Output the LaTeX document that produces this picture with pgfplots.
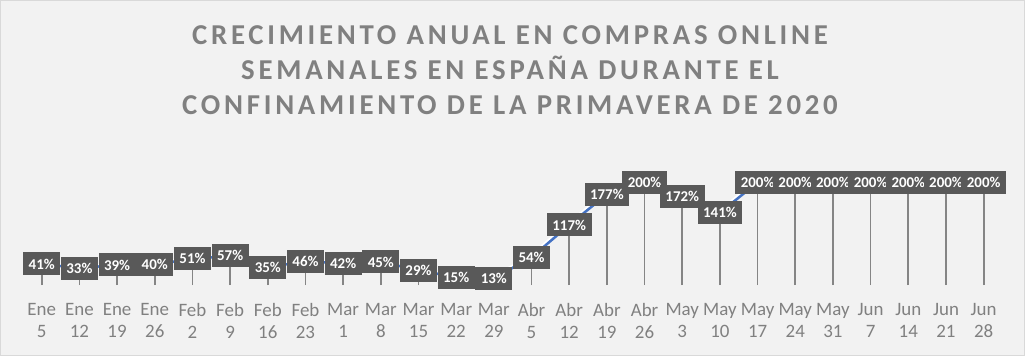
\documentclass[border=0pt]{standalone}
\usepackage{fontspec}
\setmainfont{Carlito}
\usepackage{pgfplots}
\pgfplotsset{compat=1.18}
\usepackage{pgfplotstable}
\definecolor{bgc}{HTML}{F2F2F2}
\definecolor{framec}{HTML}{D9D9D9}
\definecolor{titlec}{HTML}{808080}
\definecolor{tickc}{HTML}{808080}
\definecolor{dropc}{HTML}{858585}
\definecolor{labc}{HTML}{595959}
\definecolor{bluec}{HTML}{4472C4}
\pgfplotstableread{
x y
0 41
1 33
2 39
3 40
4 51
5 57
6 35
7 46
8 42
9 45
10 29
11 15
12 13
13 54
14 117
15 177
16 200
17 172
18 141
19 200
20 200
21 200
22 200
23 200
24 200
25 200
}\datatab
\begin{document}
\begin{tikzpicture}
\useasboundingbox (0,0) rectangle (1025bp,356bp);
\fill[bgc] (0,0) rectangle (1025bp,356bp);
\draw[framec, line width=1bp] (0.5bp,0.5bp) rectangle (1024.5bp,355.5bp);
\begin{scope}[every node/.style={text=titlec, font=\addfontfeature{LetterSpace=13}\fontsize{28.9}{34}\selectfont\bfseries, inner sep=0pt, anchor=base}]
\node at (510bp,311bp) {CRECIMIENTO ANUAL EN COMPRAS ONLINE};
\node at (510bp,276bp) {SEMANALES EN ESPAÑA DURANTE EL};
\node at (510bp,241bp) {CONFINAMIENTO DE LA PRIMAVERA DE 2020};
\end{scope}
\begin{axis}[
  at={(22.9bp,71bp)}, anchor=south west,
  scale only axis, width=979.6bp, height=128.25bp,
  xmin=-0.5, xmax=25.5, ymin=0, ymax=250,
  axis line style={draw=none},
  major tick length=0pt,
  ytick=\empty,
  xtick={0,...,25},
  xticklabels={{Ene\\5},{Ene\\12},{Ene\\19},{Ene\\26},{Feb\\2},{Feb\\9},{Feb\\16},{Feb\\23},{Mar\\1},{Mar\\8},{Mar\\15},{Mar\\22},{Mar\\29},{Abr\\5},{Abr\\12},{Abr\\19},{Abr\\26},{May\\3},{May\\10},{May\\17},{May\\24},{May\\31},{Jun\\7},{Jun\\14},{Jun\\21},{Jun\\28}},
  xticklabel style={align=center, anchor=north, inner sep=0pt, yshift=-18bp, text=tickc, font=\fontsize{19}{22}\selectfont},
  clip=false,
]
\addplot[ycomb, draw=dropc, line width=1.7bp] table[x=x,y=y] {\datatab};
\addplot[white, line width=2bp, xshift=-1.5bp, yshift=1.5bp] table[x=x,y=y] {\datatab};
\addplot[bluec, line width=2.5bp,
  point meta=y,
  nodes near coords={\pgfmathprintnumber[assume math mode=true]{\pgfplotspointmeta}\%},
  nodes near coords align={center},
  every node near coord/.append style={anchor=center, fill=labc, text=white, font=\fontsize{15}{18}\selectfont\bfseries, inner xsep=5.5bp, inner ysep=0pt, minimum height=23bp},
] table[x=x,y=y] {\datatab};
\end{axis}
\end{tikzpicture}
\end{document}
